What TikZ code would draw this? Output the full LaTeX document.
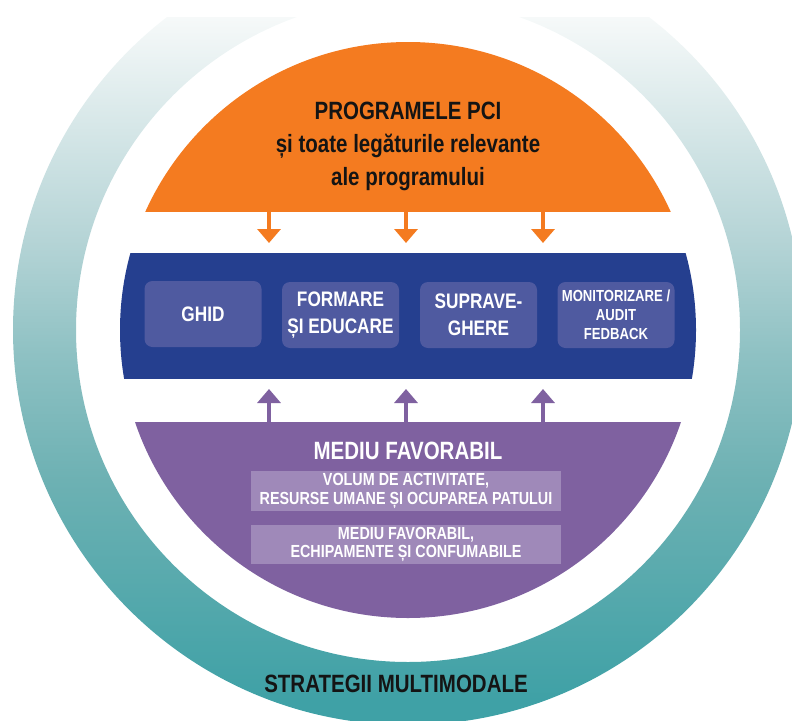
\documentclass[tikz,border=0pt]{standalone}
\usepackage{fontspec}
\setmainfont{Liberation Sans}[FakeStretch=0.82]
\usepackage{xcolor}
\usepackage{tikz}
\usetikzlibrary{arrows.meta}
\definecolor{pcorange}{HTML}{F47B20}
\definecolor{bandblue}{HTML}{253F8F}
\definecolor{boxblue}{HTML}{4F5AA0}
\definecolor{envpurple}{HTML}{7F61A0}
\definecolor{subpurple}{HTML}{9F89B9}
\definecolor{ringteal}{HTML}{3FA1A6}
\definecolor{ringlow}{HTML}{6DB1B3}
\definecolor{ringmid}{HTML}{8EC1C3}
\definecolor{ringhigh}{HTML}{B5D4D6}
\definecolor{ringtop}{HTML}{F6F9F9}
\definecolor{textblack}{HTML}{141414}
\pgfdeclareverticalshading{ringfade}{100bp}{color(0bp)=(ringteal);
  color(26.6bp)=(ringteal); color(40.5bp)=(ringlow); color(48.4bp)=(ringmid);
  color(55.7bp)=(ringhigh); color(69.8bp)=(ringtop); color(100bp)=(white)}

\begin{document}
\begin{tikzpicture}[x=1pt, y=-1pt,
          bigtxt/.style={font=\fontsize{25}{33}\selectfont\bfseries,
                         align=center, inner sep=0pt},
          pillar/.style={rectangle, rounded corners=8pt, fill=boxblue,
                         text=white, minimum width=117pt, minimum height=66pt,
                         align=center, inner sep=2pt,
                         font=\fontsize{21}{27}\selectfont\bfseries},
          subbox/.style={rectangle, fill=subpurple, text=white,
                         minimum width=310pt, align=center, inner sep=0pt,
                         font=\fontsize{17.5}{18.5}\selectfont\bfseries},
          arr/.style={-{Triangle[width=23pt,length=14pt]}, line width=3.5pt}
        ]
        \useasboundingbox (0,0) rectangle (792,720);
        %% Outer ring, fading out at the top
        \begin{scope}
          \clip (0,17) rectangle (792,720);
          \shade[shading=ringfade, even odd rule]
                (408,330) circle (395) (408,330) circle (332);
        \end{scope}
        %% Programme dome
        \begin{scope}
          \clip (0,0) rectangle (792,211);
          \fill[pcorange] (408,330) circle (288);
        \end{scope}
        %% Core band
        \begin{scope}
          \clip (0,253) rectangle (792,378);
          \fill[bandblue] (408,330) circle (288);
        \end{scope}
        %% Enabling environment bowl
        \begin{scope}
          \clip (0,422) rectangle (792,720);
          \fill[envpurple] (408,330) circle (288);
        \end{scope}
        %% Dome text
        \node[bigtxt, text=textblack] (pci) at (408,146)
              {PROGRAMELE PCI\\și toate legăturile relevante\\ale programului};
        %% Core components
        \node[pillar] (ghid) at (203,314) {GHID};
        \node[pillar] (formare) at (340.5,315) {FORMARE\\ȘI EDUCARE};
        \node[pillar] (suprav) at (478.5,315) {SUPRAVE-\\GHERE};
        \node[pillar, font=\fontsize{16}{19}\selectfont\bfseries] (monit)
              at (616,315) {MONITORIZARE /\\AUDIT\\FEDBACK};
        %% Bowl text
        \node[bigtxt, text=white] (mediu) at (408,451) {MEDIU FAVORABIL};
        \node[subbox, minimum height=40pt] (volum) at (406,491)
              {VOLUM DE ACTIVITATE,\\RESURSE UMANE ȘI OCUPAREA PATULUI};
        \node[subbox, minimum height=39pt] (echip) at (406,544.5)
              {MEDIU FAVORABIL,\\ECHIPAMENTE ȘI CONFUMABILE};
        %% Ring label
        \node[bigtxt, text=textblack] (strat) at (396,684) {STRATEGII MULTIMODALE};
        %% Arrow ends
        \coordinate (o1) at (269,211);
        \coordinate (o2) at (406,211);
        \coordinate (o3) at (543,211);
        \coordinate (t1) at (269,243);
        \coordinate (t2) at (406,243);
        \coordinate (t3) at (543,243);
        \coordinate (p1) at (269,422);
        \coordinate (p2) at (406,422);
        \coordinate (p3) at (543,422);
        \coordinate (u1) at (269,389);
        \coordinate (u2) at (406,389);
        \coordinate (u3) at (543,389);
        %% Arrows down from the dome
        \draw[arr, pcorange] (o1) -- (t1);
        \draw[arr, pcorange] (o2) -- (t2);
        \draw[arr, pcorange] (o3) -- (t3);
        %% Arrows up from the bowl
        \draw[arr, envpurple] (p1) -- (u1);
        \draw[arr, envpurple] (p2) -- (u2);
        \draw[arr, envpurple] (p3) -- (u3);
      \end{tikzpicture}
\end{document}
